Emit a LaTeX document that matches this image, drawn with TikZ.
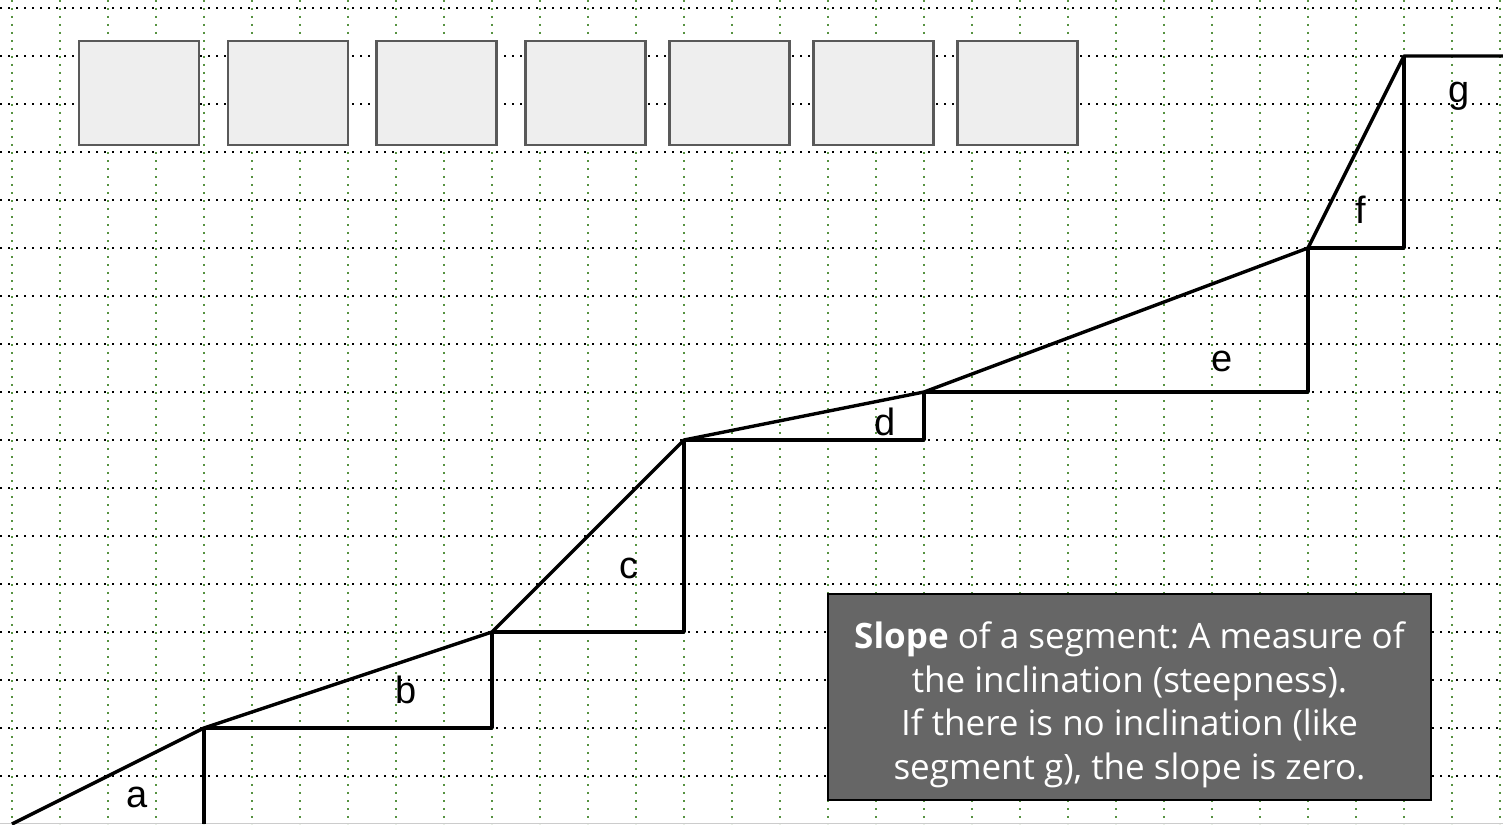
\documentclass[tikz,border=0pt]{standalone}
\usepackage{fontspec}
\setmainfont{Liberation Sans}
\newfontfamily\notefont{Open Sans}
\usepackage{xcolor}
\usepackage{tikz}
\usetikzlibrary{positioning, calc}
\frenchspacing
\definecolor{gridgreen}{RGB}{86,146,64}
\definecolor{boxfill}{RGB}{238,238,238}
\definecolor{boxdraw}{RGB}{89,89,89}
\definecolor{notefill}{RGB}{102,102,102}
\tikzset{
  vline/.style={gridgreen, line width=2.4pt, dash pattern=on 2.4pt off 5.6pt},
  hline/.style={black, line width=2.4pt, dash pattern=on 2.4pt off 5.6pt},
  tile/.style={draw=boxdraw, line width=2.2pt, fill=boxfill, minimum width=120pt, minimum height=104pt, inner sep=0pt},
  stair/.style={black, line width=3.4pt, line join=round},
  seglabel/.style={font=\fontsize{38}{44}\selectfont, inner sep=0pt},
  note/.style={draw=black, line width=1.5pt, fill=notefill, minimum width=603pt, minimum height=206pt},
  notetext/.style={text=white, align=center, inner sep=0pt, font=\notefont\fontsize{35}{43.5}\selectfont}
}
\begin{document}
\begin{tikzpicture}[x=1pt, y=-1pt]
    \useasboundingbox (0,0) rectangle (1503,824);
    % grid
    \foreach \i in {0,...,31}
      \draw[vline] ({12+48*\i},0) -- ({12+48*\i},824);
    \foreach \j in {0,...,16}
      \draw[hline] (0,{8+48*\j}) -- (1503,{8+48*\j});
    \draw[gray!40, line width=1pt] (0,823.5) -- (1503,823.5);

    % empty tiles
    \foreach \cx [count=\n] in {139, 288, 436.5, 585.5, 729.5, 873.5, 1017.5}
      \node[tile] (box\n) at (\cx,93) {};

    % staircase
    \coordinate (p0) at (12,824);
    \coordinate (p1) at (204,728);
    \coordinate (p2) at (492,632);
    \coordinate (p3) at (684,440);
    \coordinate (p4) at (924,392);
    \coordinate (p5) at (1308,248);
    \coordinate (p6) at (1404,56);
    \coordinate (p7) at (1503,56);
    \coordinate (q1) at (204,824);

    \draw[stair] (p0) -- (p1) -- (p2) -- (p3) -- (p4) -- (p5) -- (p6) -- (p7);
    \draw[stair] (q1) -- (p1);
    \draw[stair] (p1) -| (p2);
    \draw[stair] (p2) -| (p3);
    \draw[stair] (p3) -| (p4);
    \draw[stair] (p4) -| (p5);
    \draw[stair] (p5) -| (p6);

    \node[seglabel] (la) at (137,797) {a};
    \node[seglabel] (lb) at (406,690) {b};
    \node[seglabel] (lc) at (629,568) {c};
    \node[seglabel] (ld) at (885,422) {d};
    \node[seglabel] (le) at (1222,361) {e};
    \node[seglabel] (lf) at (1361,210) {f};
    \node[seglabel] (lg) at (1459,96) {g};

    % definition box
    \node[note] (def) at (1129.5,697) {};
    \node[notetext] (deftext) at ($(def.center)+(0,8)$) {\textbf{Slope} of a segment: A measure of\\the inclination (steepness).\\If there is no inclination (like\\segment g), the slope is zero.};
\end{tikzpicture}
\end{document}
